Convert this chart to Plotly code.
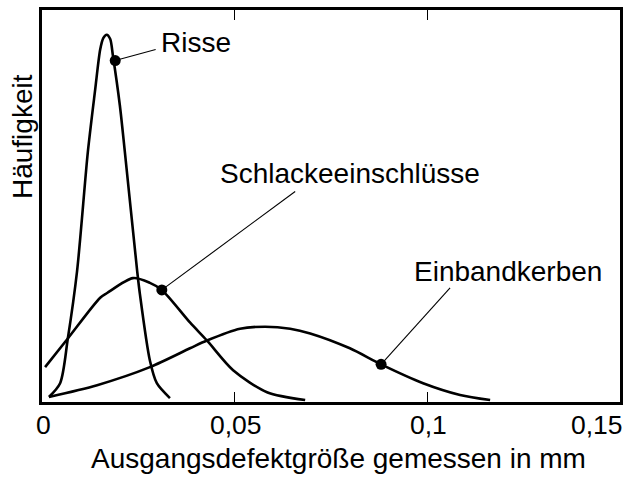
import plotly.graph_objects as go

# Data
risse_x = [0.0018, 0.0047, 0.0067, 0.0091, 0.0119, 0.0138, 0.0151, 0.0159, 0.0168, 0.0177, 0.0184, 0.0202, 0.0215, 0.0247, 0.0254, 0.0280, 0.0298, 0.0332]
risse_y = [0.013, 0.048, 0.162, 0.334, 0.638, 0.797, 0.899, 0.928, 0.937, 0.926, 0.884, 0.757, 0.638, 0.334, 0.276, 0.106, 0.048, 0.010]

schlacke_x = [0.0008, 0.0067, 0.0151, 0.0169, 0.0236, 0.0280, 0.0311, 0.0384, 0.0428, 0.0496, 0.0584, 0.0683]
schlacke_y = [0.089, 0.162, 0.266, 0.278, 0.316, 0.304, 0.286, 0.203, 0.157, 0.081, 0.025, 0.005]

einband_x = [0.0018, 0.0143, 0.0280, 0.0384, 0.0428, 0.0514, 0.0579, 0.0644, 0.0696, 0.0799, 0.0880, 0.0989, 0.1085, 0.1163]
einband_y = [0.013, 0.043, 0.089, 0.137, 0.157, 0.187, 0.192, 0.187, 0.175, 0.137, 0.096, 0.048, 0.018, 0.005]

label_names = ["Risse", "Schlackeeinschlüsse", "Einbandkerben"]
label_dot_x = [0.0190, 0.0311, 0.0880]
label_dot_y = [0.871, 0.286, 0.096]
leader_end_x = [0.0295, 0.0657, 0.1059]
leader_end_y = [0.899, 0.537, 0.291]
label_x = [0.0400, 0.0799, 0.1209]
label_y = [0.916, 0.582, 0.332]

tick_vals = [0, 0.05, 0.1, 0.15]
tick_text = ["0", "0,05", "0,1", "0,15"]

x_title = "Ausgangsdefektgröße gemessen in mm"
y_title = "Häufigkeit"

FONT = "Liberation Sans, Arial, sans-serif"

fig = go.Figure()
for xs, ys in [(risse_x, risse_y), (schlacke_x, schlacke_y), (einband_x, einband_y)]:
    fig.add_trace(go.Scatter(x=xs, y=ys, mode="lines",
                             line=dict(color="black", width=2.6, shape="spline", smoothing=0.8),
                             hoverinfo="skip", showlegend=False))

for i in range(len(label_names)):
    fig.add_trace(go.Scatter(x=[label_dot_x[i], leader_end_x[i]], y=[label_dot_y[i], leader_end_y[i]],
                             mode="lines", line=dict(color="black", width=1.1),
                             hoverinfo="skip", showlegend=False))
fig.add_trace(go.Scatter(x=label_dot_x, y=label_dot_y, mode="markers",
                         marker=dict(color="black", size=11),
                         hoverinfo="skip", showlegend=False))

for i, name in enumerate(label_names):
    fig.add_annotation(x=label_x[i], y=label_y[i], xref="x", yref="y", text=name,
                       showarrow=False, xanchor="center", yanchor="middle",
                       font=dict(family=FONT, size=28, color="black"))

for v, t in zip(tick_vals, tick_text):
    anchor = "right" if v == tick_vals[-1] else "center"
    fig.add_annotation(x=v, y=0, xref="x", yref="paper", text=t, showarrow=False,
                       xanchor=anchor, yanchor="middle", yshift=-23,
                       xshift=5 if anchor == "right" else 1,
                       font=dict(family=FONT, size=26.5, color="black"))

fig.add_annotation(x=0.5 + 8 / 579, y=0, xref="paper", yref="paper", text=x_title,
                   showarrow=False, xanchor="center", yanchor="middle", yshift=-56,
                   font=dict(family=FONT, size=28, color="black"))
fig.add_annotation(x=0, y=(402 - 135) / 395, xref="paper", yref="paper", text=y_title,
                   showarrow=False, xanchor="center", yanchor="middle", xshift=-20,
                   textangle=-90, font=dict(family=FONT, size=28, color="black"))

fig.update_xaxes(range=[0, 0.15], showgrid=False, zeroline=False, showline=True,
                 linecolor="black", linewidth=2.5, mirror="ticks",
                 tickvals=tick_vals[1:-1], ticks="inside", ticklen=10, tickwidth=1,
                 tickcolor="black", showticklabels=False)
fig.update_yaxes(range=[0, 1], showgrid=False, zeroline=False, showline=True,
                 linecolor="black", linewidth=2.5, mirror=True,
                 ticks="", showticklabels=False)

fig.update_layout(width=630, height=477, margin=dict(l=42, r=9, t=7, b=75),
                  plot_bgcolor="white", paper_bgcolor="white", showlegend=False)

fig.write_html("out.html", config={"displayModeBar": False},
               post_script="document.body.style.margin='0';document.body.style.overflow='hidden';")
